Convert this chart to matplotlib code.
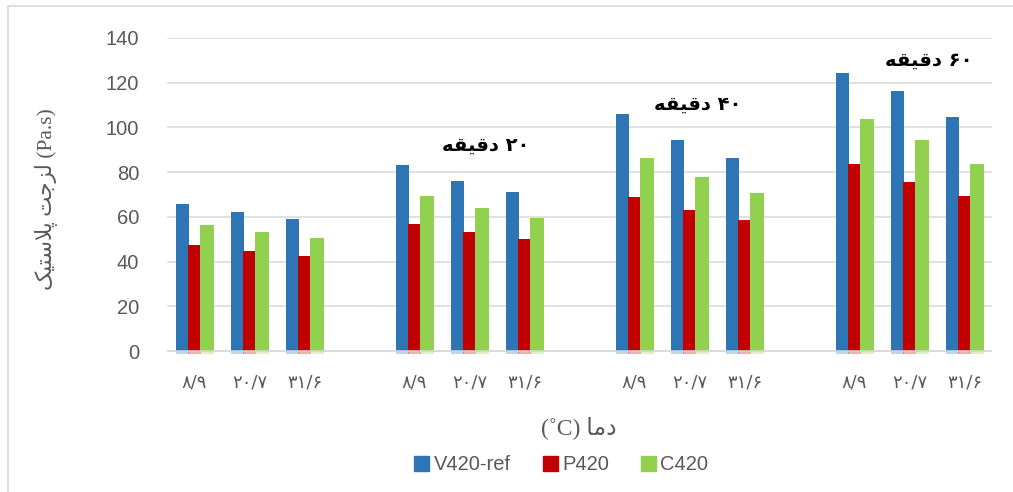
import matplotlib
matplotlib.use('Agg')
import matplotlib.pyplot as plt
import matplotlib.patches as mpatches
import numpy as np

plt.rcParams['font.family'] = ['Liberation Sans', 'DejaVu Sans']

BLUE = '#2E75B6'
RED = '#C00000'
GREEN = '#92D050'
GRID = '#D9D9D9'
TXT = '#595959'

# Persian digits
FA = str.maketrans('0123456789', '\u06f0\u06f1\u06f2\u06f3\u06f4\u06f5\u06f6\u06f7\u06f8\u06f9')

temps = ['8/9', '20/7', '31/6']
minutes = ['', '20', '40', '60']
series = ['V420-ref', 'P420', 'C420']
v420 = [65.6, 62.1, 59.1, 83.2, 76.2, 71.3, 106.2, 94.3, 86.4, 124.3, 116.5, 104.8]
p420 = [47.3, 44.7, 42.5, 57.0, 53.1, 50.0, 69.0, 63.1, 58.6, 83.8, 75.5, 69.4]
c420 = [56.2, 53.1, 50.7, 69.5, 64.1, 59.5, 86.2, 77.7, 70.6, 103.8, 94.5, 83.5]

# shaped Persian words, already in visual (left-to-right) order
W_MIN = '\ufeea\ufed8\ufef4\ufed7\ufea9'                  # دقیقه
W_TEMP = '\ufe8e\ufee3\ufea9'                              # دما
W_VISC = '\ufb8f\ufef4\ufe98\ufeb3\ufefc\ufb58 \ufe96\ufe9f\ufeb0\ufedf'  # لزجت پلاستیک

fig = plt.figure(figsize=(10.13, 4.92), dpi=100)
ax = fig.add_axes([0.1649, 0.2774, 0.8144, 0.6454])

# outer chart frame
fig.patches.append(mpatches.Rectangle((8 / 1013, -0.1), 1.2, 1 - 6 / 492 + 0.1,
                                      transform=fig.transFigure, fill=False,
                                      edgecolor=GRID, lw=1.2))

n_groups = len(minutes)
x = np.array([g * 4 + i for g in range(n_groups) for i in range(len(temps))], dtype=float)
w = 0.245
off = 0.223
for vals, col, dx, name in [(v420, BLUE, -off, series[0]), (p420, RED, 0, series[1]),
                            (c420, GREEN, off, series[2])]:
    ax.bar(x + dx, vals, width=w, color=col, zorder=3, label=name, linewidth=0)
    # faint base below the zero line
    ax.bar(x + dx, -1.2, width=w, color=col, alpha=0.3, zorder=3, linewidth=0)

ax.set_xlim(-0.5, 14.5)
ax.set_ylim(-2, 140)
ax.set_yticks(range(0, 141, 20))
ax.yaxis.grid(True, color=GRID, lw=1.1, zorder=1)
ax.axhline(0, color=GRID, lw=1.1, zorder=4)
for s in ax.spines.values():
    s.set_visible(False)
ax.tick_params(axis='both', length=0, colors=TXT)
ax.tick_params(axis='y', labelsize=14.5, pad=20)
ax.set_xticks(x)
ax.set_xticklabels([t.translate(FA) for t in temps] * n_groups, fontsize=13,
                   family=['DejaVu Sans'], color=TXT)
ax.tick_params(axis='x', pad=13)

# group labels (minutes)
lab_pos = [(None, None), (5.3, 92), (9.15, 110.5), (13.35, 130)]
for m, (lx, ly) in zip(minutes, lab_pos):
    if m:
        ax.text(lx, ly, W_MIN + ' ' + m.translate(FA), ha='center', va='center',
                fontsize=14, fontweight='bold', color='black', family=['DejaVu Sans'])

fig.text(0.571, 0.132, '(\u02daC) ' + W_TEMP, ha='center', va='center', fontsize=17,
         color=TXT, family=['Liberation Serif', 'DejaVu Sans'])
fig.text(0.045, 0.595, W_VISC + ' (Pa.s)', ha='center', va='center', rotation=90,
         fontsize=15.5, color=TXT, family=['Liberation Serif', 'DejaVu Sans'])

handles = [mpatches.Patch(color=c) for c in (BLUE, RED, GREEN)]
fig.legend(handles, series, loc='center', bbox_to_anchor=(0.554, 0.055), ncol=3,
           frameon=False, fontsize=14.5, handlelength=0.75, handleheight=0.75,
           handletextpad=0.2, columnspacing=1.6, labelcolor=TXT)

fig.savefig('out.png', dpi=100, facecolor='white')
